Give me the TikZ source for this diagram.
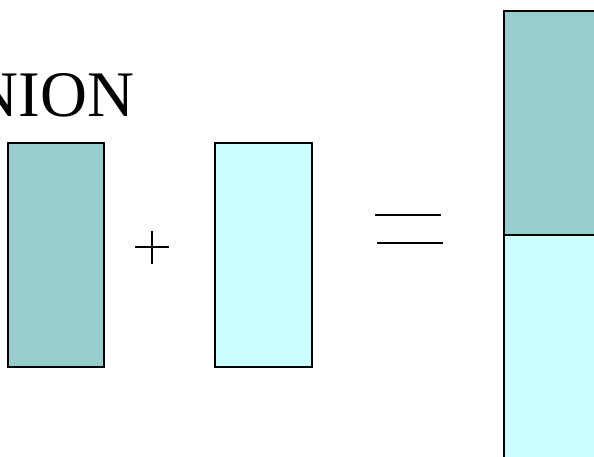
\documentclass[tikz,border=0pt]{standalone}
\usepackage{fontspec}
\setmainfont{Liberation Serif}
\definecolor{setA}{HTML}{99CCCC}
\definecolor{setB}{HTML}{CCFFFF}
\begin{document}
\begin{tikzpicture}[x=1pt,y=-1pt,every node/.style={inner sep=0pt,outer sep=0pt}]
\useasboundingbox (0,0) rectangle (594,457);
\clip (0,0) rectangle (594,457);
\tikzset{setbox/.style={draw=black,line width=1.6pt},
  opline/.style={line width=1.6pt,line cap=butt}}
% title
\node[anchor=base east,font=\fontsize{65}{70}\selectfont] (title) at (134,117) {UNION};
% first relation
\draw[setbox,fill=setA] (8,143) rectangle (104,367);
\draw[opline] (135,247) -- (169,247);
\draw[opline] (152,231) -- (152,264);
% second relation
\draw[setbox,fill=setB] (215,143) rectangle (312,367);
\draw[opline] (375,215) -- (441,215);
\draw[opline] (377,243) -- (443,243);
% result
\draw[setbox,fill=setA] (504,11) rectangle (620,235);
\draw[setbox,fill=setB] (504,235) rectangle (620,480);
\end{tikzpicture}
\end{document}
